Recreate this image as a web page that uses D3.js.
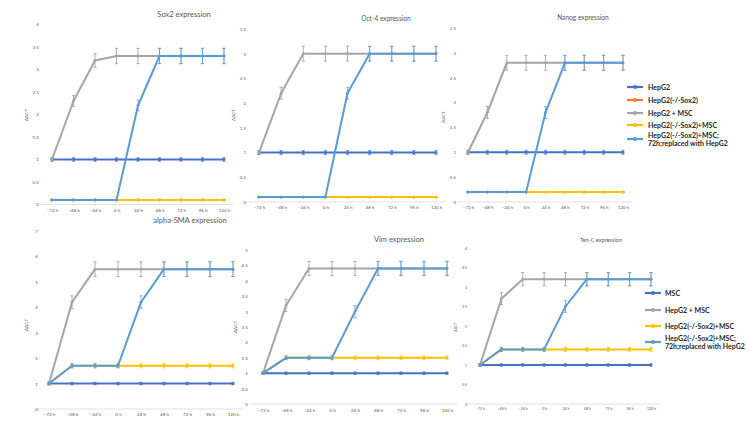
<!DOCTYPE html>
<html><head><meta charset="utf-8">
<script src="https://cdn.jsdelivr.net/npm/d3@7/dist/d3.min.js"></script>
<style>
html,body{margin:0;padding:0;background:#fff;}
svg{display:block;font-family:Lato,"Open Sans",sans-serif;}
</style></head>
<body>
<svg id="chart" width="750" height="422"></svg>
<script>
// ---------- data ----------
const hours = ["\u221272 h","\u221248 h","\u221224 h","0 h","24 h","48 h","72 h","96 h","120 h"];

const legendTop = ["HepG2","HepG2(-/-Sox2)","HepG2 + MSC","HepG2(-/-Sox2)+MSC",["HepG2(-/-Sox2)+MSC;","72h;replaced  with HepG2"]];
const legendBottom = ["MSC","HepG2 + MSC","HepG2(-/-Sox2)+MSC",["HepG2(-/-Sox2)+MSC;","72h;replaced  with HepG2"]];

// Sox2
const sox2HepG2      = [1,1,1,1,1,1,1,1,1];
const sox2KO         = [0.1,0.1,0.1,0.1,0.1,0.1,0.1,0.1,0.1];
const sox2HepG2MSC   = [1,2.3,3.2,3.3,3.3,3.3,3.3,3.3,3.3];
const sox2KOMSC      = [0.1,0.1,0.1,0.1,0.1,0.1,0.1,0.1,0.1];
const sox2Replaced   = [0.1,0.1,0.1,0.1,2.2,3.3,3.3,3.3,3.3];
const sox2HepG2Err   = [0.04,0.04,0.04,0.04,0.04,0.04,0.04,0.04,0.04];
const sox2MSCErr     = [0.03,0.12,0.15,0.17,0.17,0.17,0.17,0.17,0.17];
const sox2ReplErr    = [0.01,0.01,0.01,0.01,0.12,0.17,0.17,0.17,0.17];
// Oct-4
const oct4HepG2      = [1,1,1,1,1,1,1,1,1];
const oct4KO         = [0.1,0.1,0.1,0.1,0.1,0.1,0.1,0.1,0.1];
const oct4HepG2MSC   = [1,2.2,3,3,3,3,3,3,3];
const oct4KOMSC      = [0.1,0.1,0.1,0.1,0.1,0.1,0.1,0.1,0.1];
const oct4Replaced   = [0.1,0.1,0.1,0.1,2.2,3,3,3,3];
const oct4HepG2Err   = [0.04,0.04,0.04,0.04,0.04,0.04,0.04,0.04,0.04];
const oct4MSCErr     = [0.03,0.12,0.15,0.15,0.15,0.15,0.15,0.15,0.15];
const oct4ReplErr    = [0.01,0.01,0.01,0.01,0.12,0.15,0.15,0.15,0.15];
// Nanog
const nanogHepG2     = [1,1,1,1,1,1,1,1,1];
const nanogKO        = [0.2,0.2,0.2,0.2,0.2,0.2,0.2,0.2,0.2];
const nanogHepG2MSC  = [1,1.8,2.8,2.8,2.8,2.8,2.8,2.8,2.8];
const nanogKOMSC     = [0.2,0.2,0.2,0.2,0.2,0.2,0.2,0.2,0.2];
const nanogReplaced  = [0.2,0.2,0.2,0.2,1.8,2.8,2.8,2.8,2.8];
const nanogHepG2Err  = [0.04,0.04,0.04,0.04,0.04,0.04,0.04,0.04,0.04];
const nanogMSCErr    = [0.03,0.12,0.15,0.15,0.15,0.15,0.15,0.15,0.15];
const nanogReplErr   = [0.01,0.01,0.01,0.01,0.12,0.15,0.15,0.15,0.15];
// alpha-SMA
const smaMSC         = [1,1,1,1,1,1,1,1,1];
const smaHepG2MSC    = [1,4.2,5.5,5.5,5.5,5.5,5.5,5.5,5.5];
const smaKOMSC       = [1,1.7,1.7,1.7,1.7,1.7,1.7,1.7,1.7];
const smaReplaced    = [1,1.7,1.7,1.7,4.2,5.5,5.5,5.5,5.5];
const smaMSCErr      = [0.05,0.05,0.05,0.05,0.05,0.05,0.05,0.05,0.05];
const smaHepG2MSCErr = [0.05,0.25,0.29,0.29,0.29,0.29,0.29,0.29,0.29];
const smaKOMSCErr    = [0.05,0.08,0.08,0.08,0.08,0.08,0.08,0.08,0.08];
const smaReplErr     = [0.05,0.08,0.08,0.08,0.25,0.29,0.29,0.29,0.29];
// Vim
const vimMSC         = [1,1,1,1,1,1,1,1,1];
const vimHepG2MSC    = [1,3.2,4.4,4.4,4.4,4.4,4.4,4.4,4.4];
const vimKOMSC       = [1,1.5,1.5,1.5,1.5,1.5,1.5,1.5,1.5];
const vimReplaced    = [1,1.5,1.5,1.5,3.0,4.4,4.4,4.4,4.4];
const vimMSCErr      = [0.04,0.04,0.04,0.04,0.04,0.04,0.04,0.04,0.04];
const vimHepG2MSCErr = [0.03,0.2,0.23,0.23,0.23,0.23,0.23,0.23,0.23];
const vimKOMSCErr    = [0.03,0.06,0.06,0.06,0.06,0.06,0.06,0.06,0.06];
const vimReplErr     = [0.03,0.06,0.06,0.06,0.2,0.23,0.23,0.23,0.23];
// Ten-C
const tencMSC        = [1,1,1,1,1,1,1,1,1];
const tencHepG2MSC   = [1,2.7,3.2,3.2,3.2,3.2,3.2,3.2,3.2];
const tencKOMSC      = [1,1.4,1.4,1.4,1.4,1.4,1.4,1.4,1.4];
const tencReplaced   = [1,1.4,1.4,1.4,2.5,3.2,3.2,3.2,3.2];
const tencMSCErr     = [0.03,0.03,0.03,0.03,0.03,0.03,0.03,0.03,0.03];
const tencHepG2MSCErr= [0.03,0.15,0.17,0.17,0.17,0.17,0.17,0.17,0.17];
const tencKOMSCErr   = [0.03,0.05,0.05,0.05,0.05,0.05,0.05,0.05,0.05];
const tencReplErr    = [0.03,0.05,0.05,0.05,0.15,0.17,0.17,0.17,0.17];

// ---------- styles ----------
const cDark = "#4472C4", cOrange = "#ED7D31", cGray = "#A5A5A5", cYellow = "#FFC000", cLight = "#5B9BD5";
const zeros = hours.map(() => 0.01);

const panels = [
  {title:"Sox2 expression", yMax:4, yStep:0.5, x0:52, x1:224, y0:204.5, yTop:24.5, labelRight:39, xLabY:212,
   titleX:184, titleY:17, titleSize:7.5, tickSize:4.6, yTitleX:28, yTitleY:115,
   series:[[sox2HepG2,sox2HepG2Err,cDark],[sox2KO,zeros,cOrange],[sox2HepG2MSC,sox2MSCErr,cGray],[sox2KOMSC,zeros,cYellow],[sox2Replaced,sox2ReplErr,cLight]]},
  {title:"Oct-4 expression", yMax:3.5, yStep:0.5, x0:259, x1:436, y0:202, yTop:29, labelRight:246, xLabY:209,
   titleX:386, titleY:21, titleSize:6.6, tickSize:4.4, yTitleX:235, yTitleY:115,
   series:[[oct4HepG2,oct4HepG2Err,cDark],[oct4KO,zeros,cOrange],[oct4HepG2MSC,oct4MSCErr,cGray],[oct4KOMSC,zeros,cYellow],[oct4Replaced,oct4ReplErr,cLight]]},
  {title:"Nanog expression", yMax:3.5, yStep:0.5, x0:468, x1:623, y0:202, yTop:28, labelRight:456, xLabY:209,
   titleX:583, titleY:20, titleSize:6.6, tickSize:4.4, yTitleX:445, yTitleY:117,
   series:[[nanogHepG2,nanogHepG2Err,cDark],[nanogKO,zeros,cOrange],[nanogHepG2MSC,nanogMSCErr,cGray],[nanogKOMSC,zeros,cYellow],[nanogReplaced,nanogReplErr,cLight]]},
  {title:"alpha-SMA expression", yMax:7, yStep:1, x0:49, x1:233, y0:409, yTop:231, labelRight:38, xLabY:416,
   titleX:190, titleY:223, titleSize:7.5, tickSize:4.6, yTitleX:28, yTitleY:325,
   series:[[smaMSC,smaMSCErr,cDark],[smaHepG2MSC,smaHepG2MSCErr,cGray],[smaKOMSC,smaKOMSCErr,cYellow],[smaReplaced,smaReplErr,cLight]]},
  {title:"Vim expression", yMax:5, yStep:0.5, x0:263, x1:447, y0:404, yTop:250, labelRight:248, xLabY:412,
   titleX:399, titleY:242, titleSize:7.5, tickSize:4.6, yTitleX:237, yTitleY:327,
   series:[[vimMSC,vimMSCErr,cDark],[vimHepG2MSC,vimHepG2MSCErr,cGray],[vimKOMSC,vimKOMSCErr,cYellow],[vimReplaced,vimReplErr,cLight]]},
  {title:"Ten-C expression", yMax:4, yStep:0.5, x0:480, x1:651, y0:404, yTop:248, labelRight:467, xLabY:410,
   titleX:601, titleY:242, titleSize:5.6, tickSize:3.6, yTitleX:457, yTitleY:327,
   series:[[tencMSC,tencMSCErr,cDark],[tencHepG2MSC,tencHepG2MSCErr,cGray],[tencKOMSC,tencKOMSCErr,cYellow],[tencReplaced,tencReplErr,cLight]]}
];

const svg = d3.select("#chart");
svg.append("rect").attr("width",750).attr("height",422).attr("fill","#fff");

panels.forEach(p => {
  const g = svg.append("g");
  const x = d3.scalePoint().domain(hours).range([p.x0, p.x1]);
  const y = d3.scaleLinear().domain([0, p.yMax]).range([p.y0, p.yTop]);
  const step = x.step();

  // x axis line
  g.append("line")
    .attr("x1", p.x0 - step*0.55).attr("x2", p.x1 + step*0.45)
    .attr("y1", y(0)).attr("y2", y(0))
    .attr("stroke","#d9d9d9").attr("stroke-width",0.8);

  // y axis labels
  const ticks = d3.range(0, p.yMax + 1e-9, p.yStep);
  const ya = d3.axisLeft(y).tickValues(ticks).tickSize(0).tickPadding(0)
    .tickFormat(d => d3.format("~g")(d));
  const yg = g.append("g").attr("transform",`translate(${p.labelRight},0)`).call(ya);
  yg.select(".domain").remove();
  yg.selectAll("text").attr("fill","#595959").style("font-size",p.tickSize+"px").style("font-family","Lato, sans-serif");

  // x axis labels
  const xa = d3.axisBottom(x).tickSize(0).tickPadding(0);
  const xg = g.append("g").attr("transform",`translate(0,${p.xLabY - p.tickSize*0.75})`).call(xa);
  xg.select(".domain").remove();
  xg.selectAll("text").attr("fill","#595959").attr("dy","0.71em").style("font-size",p.tickSize+"px").style("font-family","Lato, sans-serif");

  // titles
  g.append("text").attr("x",p.titleX).attr("y",p.titleY).attr("text-anchor","middle")
    .attr("fill","#595959").style("font-size",p.titleSize+"px").text(p.title);
  g.append("text").attr("transform",`translate(${p.yTitleX},${p.yTitleY}) rotate(-90)`)
    .attr("text-anchor","middle").attr("fill","#595959").style("font-size",(p.tickSize)+"px").text("\u0394\u0394CT");

  const line = d3.line().x((d,i) => x(hours[i])).y(d => y(d));

  p.series.forEach(([vals, errs, col]) => {
    const sg = g.append("g");
    sg.append("path").attr("d", line(vals)).attr("fill","none")
      .attr("stroke",col).attr("stroke-width",2).attr("stroke-linejoin","round");
    const pts = vals.map((v,i) => ({v, e: errs[i], h: hours[i]}));
    // error bars
    const eb = sg.selectAll("g.eb").data(pts).enter().append("g");
    const ecol = col === cGray ? "#8f8f8f" : col;
    eb.append("line").attr("x1",d=>x(d.h)).attr("x2",d=>x(d.h))
      .attr("y1",d=>y(d.v-d.e)).attr("y2",d=>y(d.v+d.e)).attr("stroke",ecol).attr("stroke-width",0.7);
    eb.append("line").attr("x1",d=>x(d.h)-1.6).attr("x2",d=>x(d.h)+1.6)
      .attr("y1",d=>y(d.v-d.e)).attr("y2",d=>y(d.v-d.e)).attr("stroke",ecol).attr("stroke-width",0.7);
    eb.append("line").attr("x1",d=>x(d.h)-1.6).attr("x2",d=>x(d.h)+1.6)
      .attr("y1",d=>y(d.v+d.e)).attr("y2",d=>y(d.v+d.e)).attr("stroke",ecol).attr("stroke-width",0.7);
    // markers
    sg.selectAll("circle").data(pts).enter().append("circle")
      .attr("cx",d=>x(d.h)).attr("cy",d=>y(d.v)).attr("r",1.4).attr("fill",col);
  });
});

// ---------- legends ----------
function legend(items, colors, lx, rows, textX) {
  const lg = svg.append("g");
  items.forEach((it, i) => {
    const yy = rows[i];
    lg.append("line").attr("x1",lx).attr("x2",lx+16).attr("y1",yy).attr("y2",yy)
      .attr("stroke",colors[i]).attr("stroke-width",2.2);
    lg.append("circle").attr("cx",lx+8).attr("cy",yy).attr("r",2).attr("fill",colors[i]);
    const lines = Array.isArray(it) ? it : [it];
    const t = lg.append("text").attr("x",textX).attr("fill","#262626")
      .style("font-size","7px").style("font-weight","bold");
    lines.forEach((s, j) => {
      t.append("tspan").attr("x",textX)
        .attr("y", lines.length > 1 ? yy - 1.5 + j*8 : yy + 2.5).text(s);
    });
  });
}
legend(legendTop, [cDark,cOrange,cGray,cYellow,cLight], 627, [87,100,113,125,139], 648);
legend(legendBottom, [cDark,cGray,cYellow,cLight], 645, [293,310,326,342], 665);
</script>
</body></html>
